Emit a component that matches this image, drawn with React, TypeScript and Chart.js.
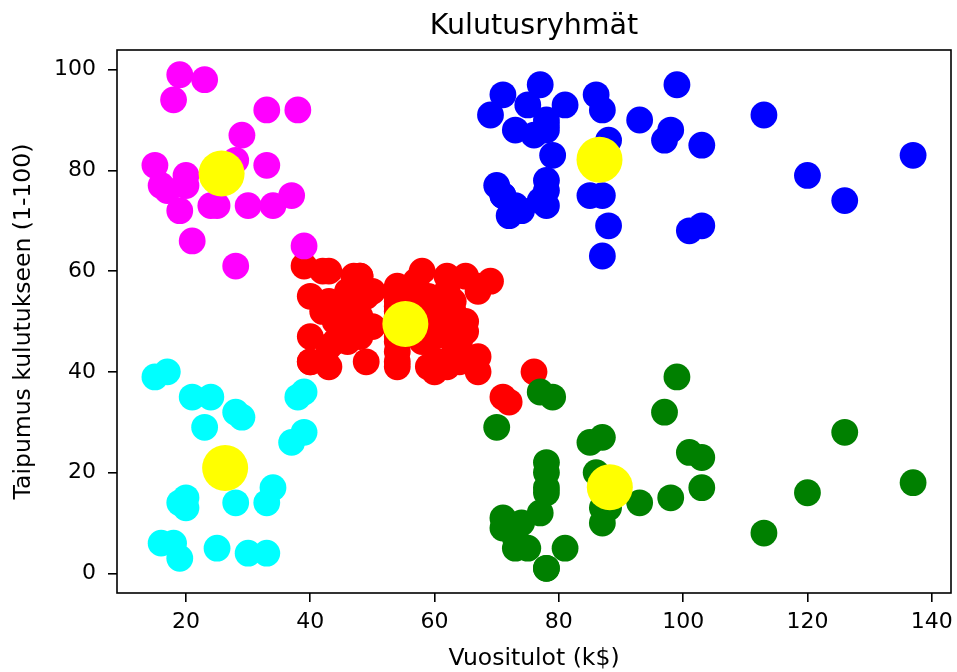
import { useEffect, useRef } from "react";
import { Chart, registerables } from "chart.js";

Chart.register(...registerables);

const FONT = "'DejaVu Sans', sans-serif";

// Annual income (k$) and spending score (1-100), grouped by cluster
const redIncome = [39, 40, 40, 40, 40, 42, 42, 43, 43, 43, 43, 44, 44, 46, 46, 46, 46, 47, 47, 48, 48, 48, 48, 48, 48, 49, 49, 50, 50, 54, 54, 54, 54, 54, 54, 54, 54, 54, 54, 54, 54, 57, 57, 58, 58, 59, 59, 60, 60, 60, 60, 60, 60, 61, 61, 62, 62, 62, 62, 62, 62, 63, 63, 63, 63, 63, 63, 64, 64, 65, 65, 65, 65, 67, 67, 67, 67, 69, 71, 72, 76];
const redScore = [61, 55, 47, 42, 42, 52, 60, 54, 60, 45, 41, 50, 46, 51, 46, 56, 55, 52, 59, 51, 59, 50, 48, 59, 47, 55, 42, 49, 56, 47, 54, 53, 48, 52, 42, 51, 55, 41, 44, 57, 46, 58, 55, 60, 46, 55, 41, 49, 40, 42, 52, 47, 50, 42, 49, 41, 48, 59, 55, 56, 42, 50, 46, 43, 48, 52, 54, 42, 46, 48, 50, 43, 59, 43, 57, 56, 40, 58, 35, 34, 40];

const blueIncome = [69, 70, 71, 71, 71, 72, 73, 73, 74, 75, 76, 77, 77, 78, 78, 78, 78, 78, 78, 79, 81, 85, 86, 87, 87, 87, 88, 88, 93, 97, 98, 99, 101, 103, 103, 113, 120, 126, 137];
const blueScore = [91, 77, 95, 75, 75, 71, 88, 73, 72, 93, 87, 97, 74, 90, 88, 76, 89, 78, 73, 83, 93, 75, 95, 63, 75, 92, 86, 69, 90, 86, 88, 97, 68, 85, 69, 91, 79, 74, 83];

const greenIncome = [70, 71, 71, 73, 73, 74, 75, 77, 77, 78, 78, 78, 78, 78, 78, 79, 81, 85, 86, 87, 87, 87, 88, 88, 93, 97, 98, 99, 101, 103, 103, 113, 120, 126, 137];
const greenScore = [29, 11, 9, 5, 7, 10, 5, 12, 36, 22, 17, 20, 16, 1, 1, 35, 5, 26, 20, 27, 13, 10, 13, 15, 14, 32, 15, 39, 24, 17, 23, 8, 16, 28, 18];

const cyanIncome = [15, 16, 17, 18, 19, 19, 20, 20, 21, 23, 24, 25, 28, 28, 29, 30, 33, 33, 34, 37, 38, 39, 39];
const cyanScore = [39, 6, 40, 6, 3, 14, 15, 13, 35, 29, 35, 5, 14, 32, 31, 4, 4, 14, 17, 26, 35, 36, 28];

const magentaIncome = [15, 16, 17, 18, 19, 19, 20, 20, 21, 23, 24, 25, 28, 28, 29, 30, 33, 33, 34, 37, 38, 39];
const magentaScore = [81, 77, 76, 94, 72, 99, 77, 79, 66, 98, 73, 73, 82, 61, 87, 73, 92, 81, 73, 75, 92, 65];

// Cluster centres
const centroidIncome = [55.3, 86.54, 88.2, 26.3, 25.73];
const centroidScore = [49.52, 82.13, 17.11, 20.91, 79.36];

const xTickValues = [20, 40, 60, 80, 100, 120, 140];
const yTickValues = [0, 20, 40, 60, 80, 100];

const toPoints = (xs: number[], ys: number[]) => xs.map((x, i) => ({ x, y: ys[i] }));

// Closed axes box drawn around the plot area
const frame = {
  id: "frame",
  afterDraw(chart: any) {
    const { ctx, chartArea: a } = chart;
    ctx.save();
    ctx.strokeStyle = "#000";
    ctx.lineWidth = 1.6;
    ctx.strokeRect(a.left, a.top, a.right - a.left, a.bottom - a.top);
    ctx.restore();
  },
};

export default function App() {
  const canvasRef = useRef<HTMLCanvasElement | null>(null);

  useEffect(() => {
    const canvas = canvasRef.current;
    if (!canvas) return;
    Chart.defaults.font.family = FONT;

    // Lower `order` is painted later, so the centres end up on top
    const series = (label: string, xs: number[], ys: number[], color: string, r: number, order: number) => ({
      label,
      data: toPoints(xs, ys),
      backgroundColor: color,
      borderColor: color,
      borderWidth: 0,
      pointRadius: r,
      pointHoverRadius: r,
      order,
    });

    const chart = new Chart(canvas, {
      type: "scatter",
      data: {
        datasets: [
          series("Ryhmä 1", redIncome, redScore, "#ff0000", 13.4, 5),
          series("Ryhmä 2", blueIncome, blueScore, "#0000ff", 13.4, 4),
          series("Ryhmä 3", greenIncome, greenScore, "#008000", 13.4, 3),
          series("Ryhmä 4", cyanIncome, cyanScore, "#00ffff", 13.4, 2),
          series("Ryhmä 5", magentaIncome, magentaScore, "#ff00ff", 13.4, 1),
          series("Keskipisteet", centroidIncome, centroidScore, "#ffff00", 23, 0),
        ],
      },
      options: {
        responsive: false,
        animation: false,
        events: [],
        layout: { autoPadding: false, padding: { left: 0, right: 6, top: 0, bottom: 0 } },
        plugins: {
          legend: { display: false },
          tooltip: { enabled: false },
          title: {
            display: true,
            text: "Kulutusryhmät",
            fullSize: false,
            color: "#000",
            font: { family: FONT, size: 28.5, weight: "normal", lineHeight: 1 },
            padding: { top: 12.55, bottom: 8.95 },
          },
        },
        scales: {
          x: {
            type: "linear",
            position: "bottom",
            min: 8.9,
            max: 143.1,
            afterBuildTicks: (s: any) => {
              s.ticks = xTickValues.map((v) => ({ value: v }));
            },
            afterFit: (s: any) => {
              s.height = 79;
              s.paddingLeft = 0;
              s.paddingRight = 0;
            },
            border: { display: false },
            grid: {
              display: true,
              drawOnChartArea: false,
              drawTicks: true,
              tickLength: 9,
              color: "#000",
              lineWidth: 1.6,
            },
            ticks: {
              color: "#000",
              padding: 9.5,
              maxRotation: 0,
              font: { family: FONT, size: 22, lineHeight: 1 },
            },
            title: {
              display: true,
              text: "Vuositulot (k$)",
              color: "#000",
              font: { family: FONT, size: 23.5, lineHeight: 1 },
              padding: { top: 0, bottom: 1.65 },
            },
          },
          y: {
            type: "linear",
            position: "left",
            min: -3.9,
            max: 103.9,
            afterBuildTicks: (s: any) => {
              s.ticks = yTickValues.map((v) => ({ value: v }));
            },
            afterFit: (s: any) => {
              s.width = 117;
              s.paddingTop = 0;
              s.paddingBottom = 0;
            },
            border: { display: false },
            grid: {
              display: true,
              drawOnChartArea: false,
              drawTicks: true,
              tickLength: 9,
              color: "#000",
              lineWidth: 1.6,
            },
            ticks: {
              color: "#000",
              padding: 12,
              font: { family: FONT, size: 22, lineHeight: 1 },
            },
            title: {
              display: true,
              text: "Taipumus kulutukseen (1-100)",
              color: "#000",
              font: { family: FONT, size: 23.5, lineHeight: 1 },
              padding: { top: 12.25, bottom: 0 },
            },
          },
        },
      },
      plugins: [frame],
    } as any);

    return () => chart.destroy();
  }, []);

  return (
    <canvas
      ref={canvasRef}
      width={957}
      height={672}
      style={{ position: "fixed", left: 0, top: 0, width: 957, height: 672, display: "block", background: "#fff" }}
    />
  );
}
